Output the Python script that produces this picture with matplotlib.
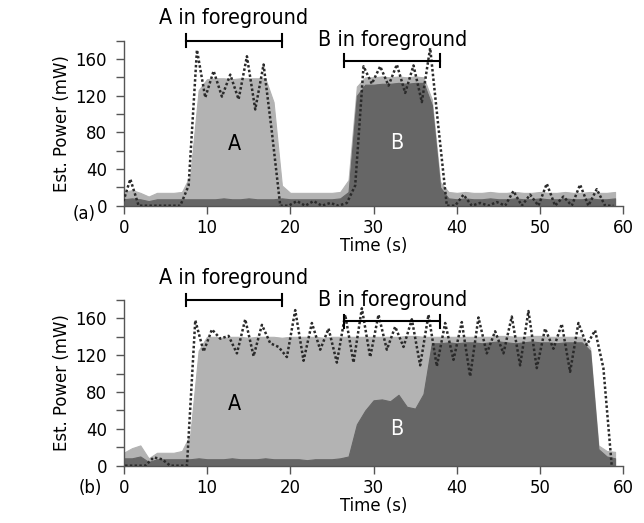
import matplotlib
matplotlib.use("Agg")
import matplotlib.pyplot as plt
from matplotlib import font_manager as fm
import numpy as np

# sample index (s) for the stacked per-app estimates
seconds = np.arange(60)

# (a) apps run one after the other
b_power_a = [7, 8, 7, 5, 7, 7, 7, 7, 7, 7, 7, 7, 8, 7, 7, 8, 7, 7, 7, 8,
             7, 7, 7, 7, 7, 7, 8, 15, 120, 132, 132, 133, 133, 134, 133, 134, 134, 110, 20, 8,
             7, 8, 7, 7, 8, 7, 7, 8, 7, 7, 8, 7, 7, 8, 7, 7, 8, 7, 7, 8]
a_power_a = [8, 9, 7, 5, 7, 7, 7, 8, 26, 119, 131, 132, 131, 131, 132, 131, 132, 132, 106, 14,
             7, 7, 7, 7, 7, 7, 7, 13, 10, 8, 8, 8, 7, 7, 7, 7, 6, 6, 6, 7,
             7, 7, 7, 7, 7, 7, 7, 7, 7, 7, 7, 7, 7, 7, 7, 7, 7, 7, 7, 7]
measured_a = [0, 29, 0, 0, 0, 0, 0, 0, 22, 170, 118, 147, 119, 143, 116, 163, 105, 154, 80, 0,
              0, 5, 0, 5, 0, 3, 0, 3, 22, 152, 133, 152, 131, 154, 123, 153, 113, 172, 85, 0,
              0, 12, 0, 3, 0, 4, 0, 16, 0, 12, 0, 24, 0, 10, 0, 23, 0, 18, 0, 0]

# (b) B starts while A keeps running
b_power_b = [8, 8, 10, 4, 7, 7, 7, 7, 7, 8, 7, 7, 7, 8, 7, 7, 7, 8, 7, 7,
             7, 7, 6, 7, 7, 7, 8, 10, 45, 60, 71, 72, 70, 77, 64, 62, 78, 133, 133, 134,
             133, 134, 134, 133, 134, 135, 134, 133, 134, 135, 134, 134, 133, 134, 134, 134, 125, 18, 10, 8]
a_power_b = [6, 11, 12, 4, 7, 7, 7, 9, 27, 117, 133, 133, 132, 132, 133, 132, 133, 132, 133, 132,
             133, 133, 134, 133, 132, 133, 132, 130, 95, 80, 69, 68, 70, 63, 77, 79, 62, 7, 7, 6,
             7, 6, 6, 7, 6, 6, 7, 7, 6, 6, 7, 6, 7, 6, 6, 6, 3, 4, 6, 7]
measured_b = [0, 0, 0, 0, 9, 7, 0, 0, 0, 158, 124, 148, 138, 141, 122, 159, 119, 153, 133, 129,
              118, 169, 114, 155, 126, 149, 112, 164, 112, 171, 118, 164, 126, 151, 129, 159, 109, 164, 108, 155,
              115, 156, 97, 161, 122, 146, 122, 162, 109, 168, 106, 149, 127, 154, 102, 155, 131, 147, 106, 0]

# the power meter samples lag the estimates slightly
meter_lag = {"a": 0.2, "b": 0.4}

fg_a = (7.5, 19.0)
fg_b = (26.5, 38.0)

LIGHT = "#b3b3b3"
DARK = "#666666"
SPINE = "#555555"

# prefer the condensed cut of DejaVu Sans if it is installed
cond_prop = fm.FontProperties(family="DejaVu Sans", stretch="condensed")
cond_file = fm.findfont(cond_prop, fallback_to_default=True)
if "Condensed" in cond_file:
    plt.rcParams["font.stretch"] = "condensed"
    scale = 1.1
else:
    scale = 1.0
plt.rcParams["font.family"] = "DejaVu Sans"

TICK_FS = 12 * scale
LABEL_FS = 12 * scale
NOTE_FS = 14 * scale

fig = plt.figure(figsize=(6.44, 5.23), dpi=100)
ax_a = fig.add_axes([0.192, 0.6067, 0.776, 0.3155])
ax_b = fig.add_axes([0.192, 0.1096, 0.776, 0.3168])


def bracket(ax, x0, x1, y, label, label_y):
    ax.plot([x0, x1], [y, y], color="black", lw=1.5, clip_on=False, zorder=5)
    for x in (x0, x1):
        ax.plot([x, x], [y - 7, y + 7], color="black", lw=1.5, clip_on=False, zorder=5)
    ax.text((x0 + x1) / 2, label_y, label, ha="center", va="center",
            fontsize=NOTE_FS, clip_on=False)


def draw_panel(ax, b_vals, a_vals, meas, lag):
    b_vals = np.array(b_vals)
    a_vals = np.array(a_vals)
    ax.fill_between(seconds, 0, b_vals + a_vals, color=LIGHT, lw=0.8, edgecolor=LIGHT, zorder=1)
    ax.fill_between(seconds, 0, b_vals, color=DARK, lw=0.8, edgecolor=DARK, zorder=1.5)
    ax.plot(seconds - lag, meas, color="#2a2a2a", lw=1.8, linestyle=(0, (1, 0.9)), zorder=3)

    ax.set_xlim(0, 60)
    ax.set_ylim(0, 180)
    ax.set_xticks(np.arange(0, 61, 10))
    ax.set_yticks(np.arange(0, 161, 40))
    ax.set_yticks(np.arange(20, 181, 40), minor=True)
    ax.tick_params(axis="both", which="both", direction="out", length=6,
                   width=1, color=SPINE, labelsize=TICK_FS)
    ax.tick_params(axis="y", pad=6)
    for side in ("top", "right"):
        ax.spines[side].set_visible(False)
    for side in ("left", "bottom"):
        ax.spines[side].set_color(SPINE)
        ax.spines[side].set_linewidth(1)
    ax.set_ylabel("Est. Power (mW)", fontsize=LABEL_FS, labelpad=3)
    ax.set_xlabel("Time (s)", fontsize=LABEL_FS, labelpad=0)


draw_panel(ax_a, b_power_a, a_power_a, measured_a, meter_lag["a"])
ax_a.text(13.3, 67, "A", ha="center", va="center", fontsize=NOTE_FS, color="black")
ax_a.text(32.8, 68, "B", ha="center", va="center", fontsize=NOTE_FS, color="white")
bracket(ax_a, *fg_a, 180, "A in foreground", 205)
bracket(ax_a, *fg_b, 158, "B in foreground", 181)
fig.text(84 / 644, 1 - 214 / 523, "(a)", ha="center", va="center", fontsize=LABEL_FS)

draw_panel(ax_b, b_power_b, a_power_b, measured_b, meter_lag["b"])
ax_b.text(13.3, 67, "A", ha="center", va="center", fontsize=NOTE_FS, color="black")
ax_b.text(32.8, 40, "B", ha="center", va="center", fontsize=NOTE_FS, color="white")
bracket(ax_b, *fg_a, 180, "A in foreground", 204)
bracket(ax_b, *fg_b, 157, "B in foreground", 180)
fig.text(90 / 644, 1 - 488 / 523, "(b)", ha="center", va="center", fontsize=LABEL_FS)

fig.savefig("out.png", dpi=100)
